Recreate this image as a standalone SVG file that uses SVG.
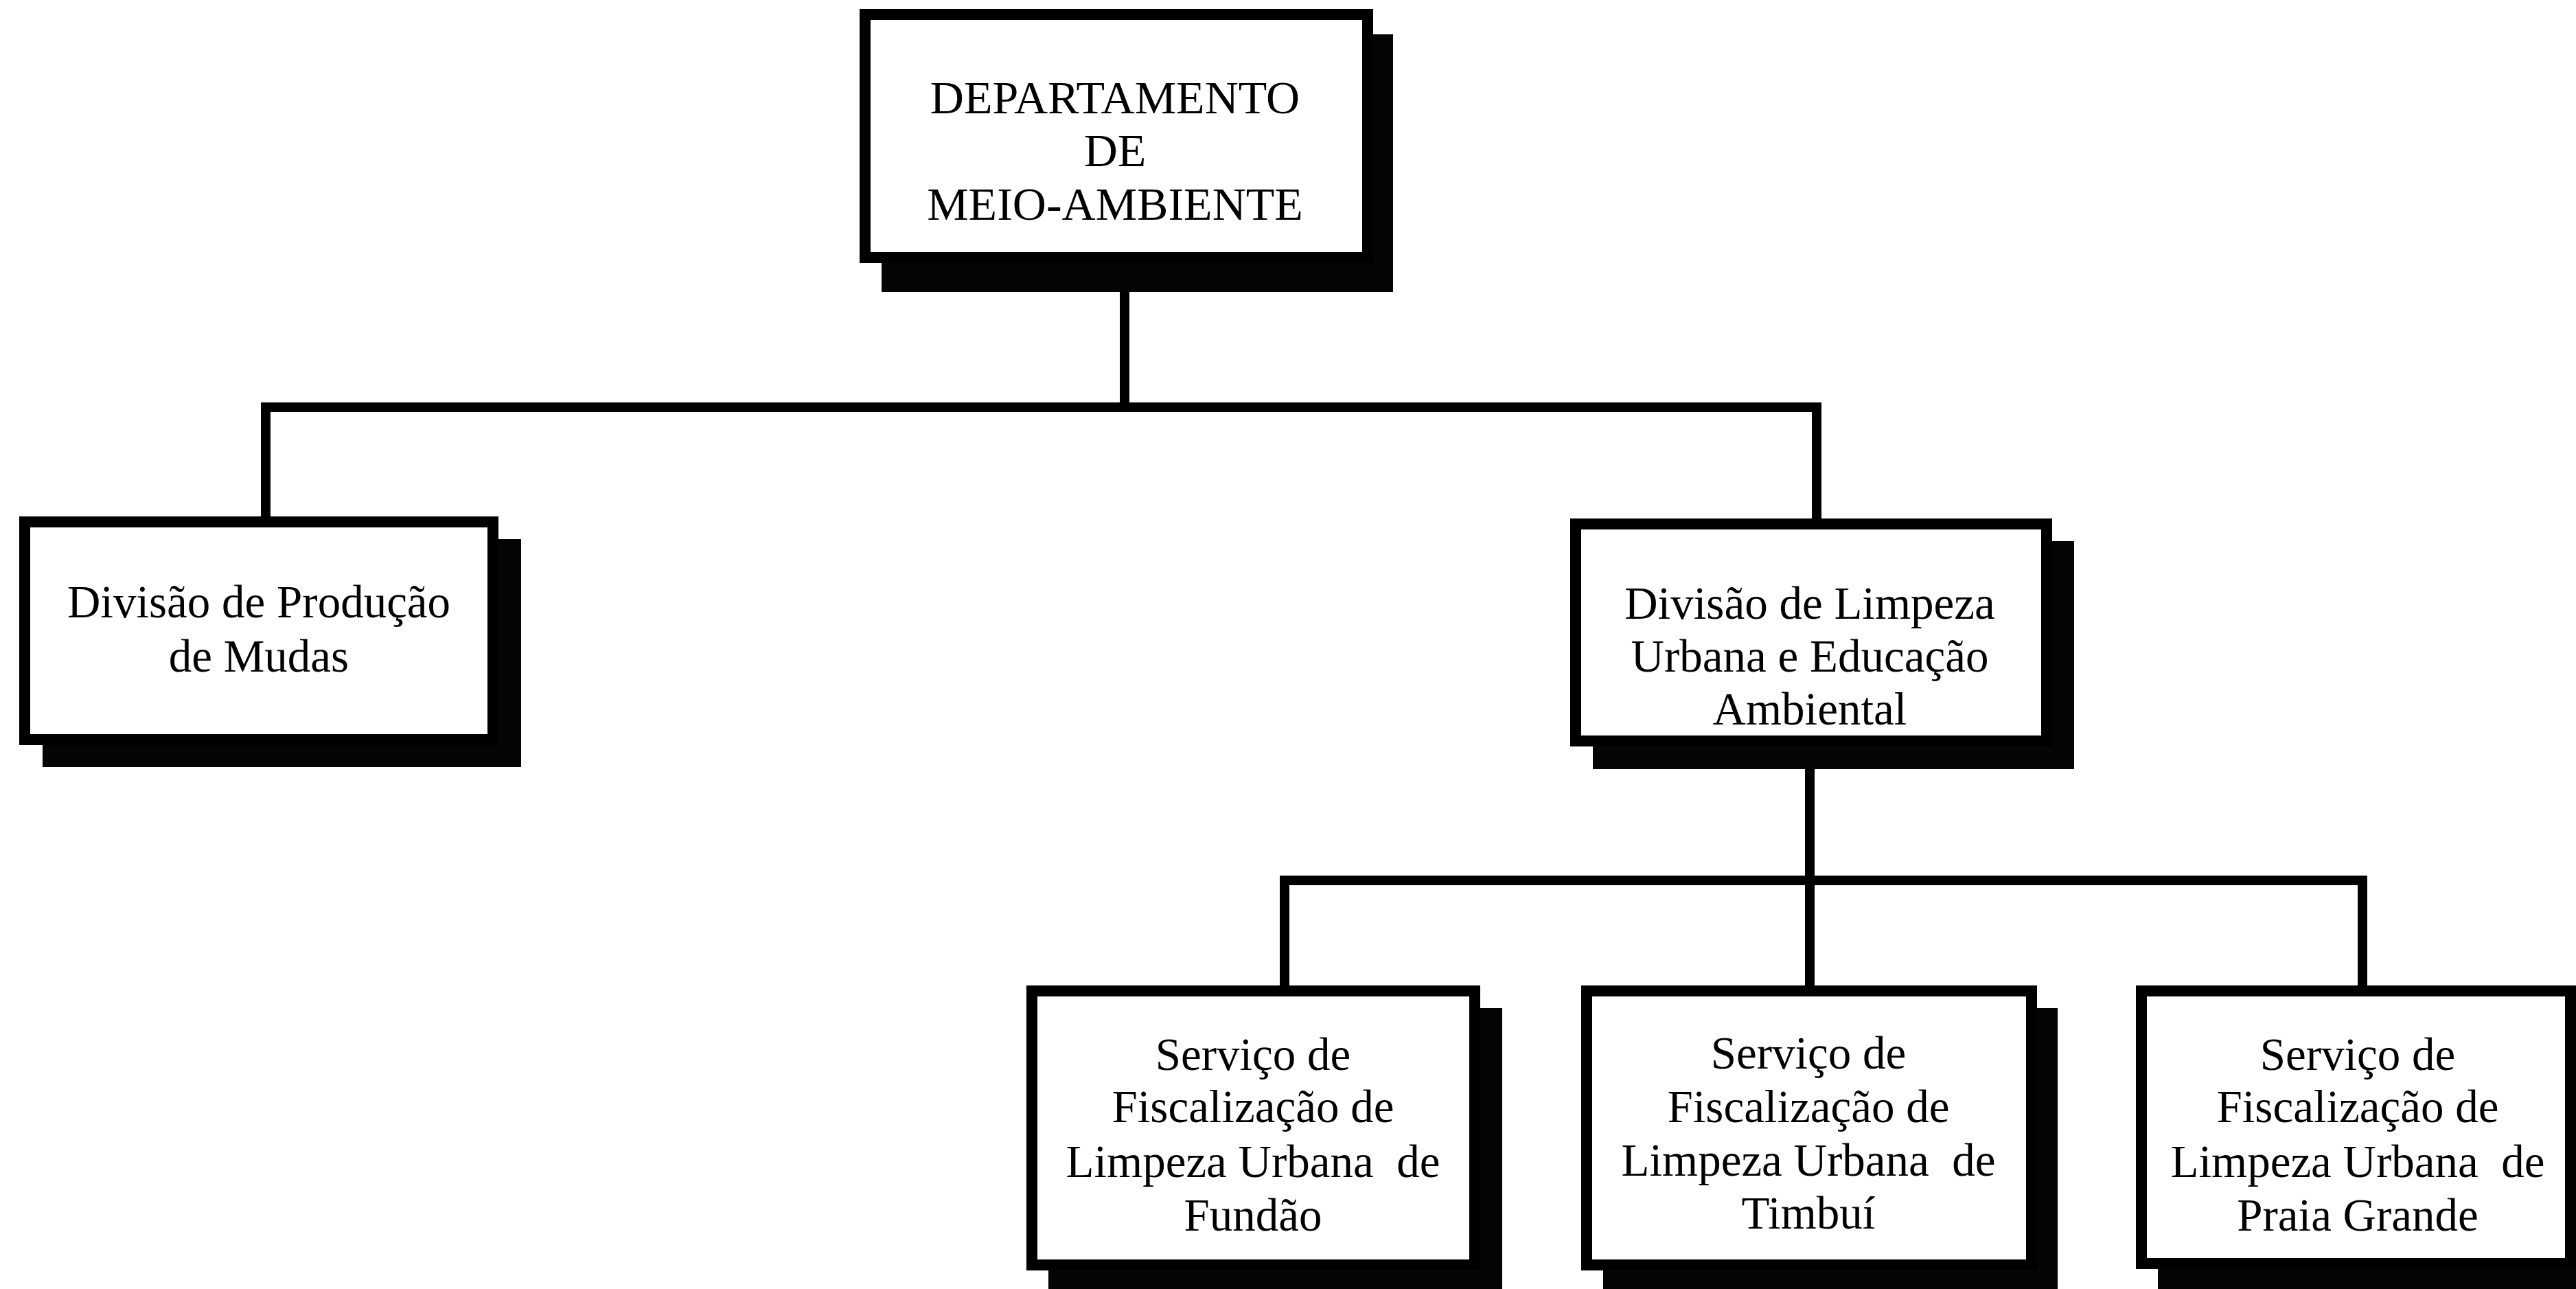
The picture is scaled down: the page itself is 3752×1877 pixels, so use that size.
<svg xmlns="http://www.w3.org/2000/svg" width="3752" height="1877" viewBox="0 0 3752 1877">
<style>
.bg{fill:#fff}
.box{fill:#fff;stroke:#000;stroke-width:16}
.sh{fill:#050505}
.ln{stroke:#000;stroke-width:14;fill:none;stroke-linecap:square}
.t{font-family:"Liberation Serif","Times New Roman",serif;font-size:67px;fill:#000;text-anchor:middle}
</style>
<rect class="bg" x="0" y="0" width="3752" height="1877"/>
<g id="connectors">
<path class="ln" d="M1638 383 V593 M387 593 H2646 M387 593 V752 M2646 593 V755"/>
<path class="ln" d="M2636 1087 V1282 M1871 1282 H3441 M1871 1282 V1435 M2636 1282 V1435 M3441 1282 V1435"/>
</g>
<g id="n-departamento">
<rect class="sh" x="1284" y="50" width="745" height="375"/>
<rect class="box" x="1260" y="21" width="732" height="354"/>
<text class="t" x="1624" y="165" style="font-size:68px">DEPARTAMENTO</text>
<text class="t" x="1624" y="242" style="font-size:68px">DE</text>
<text class="t" x="1624" y="320" style="font-size:68px">MEIO-AMBIENTE</text>
</g>
<g id="n-producao">
<rect class="sh" x="62" y="785" width="697" height="332"/>
<rect class="box" x="36" y="760" width="682" height="317"/>
<text class="t" x="377" y="899">Divisão de Produção</text>
<text class="t" x="377" y="978">de Mudas</text>
</g>
<g id="n-limpeza">
<rect class="sh" x="2320" y="788" width="701" height="332"/>
<rect class="box" x="2295" y="763" width="686" height="316"/>
<text class="t" x="2636" y="901">Divisão de Limpeza</text>
<text class="t" x="2636" y="978">Urbana e Educação</text>
<text class="t" x="2636" y="1055">Ambiental</text>
</g>
<g id="n-fundao">
<rect class="sh" x="1527" y="1468" width="661" height="409"/>
<rect class="box" x="1503" y="1443" width="645" height="399"/>
<text class="t" x="1825" y="1558">Serviço de</text>
<text class="t" x="1825" y="1634">Fiscalização de</text>
<text class="t" x="1825" y="1714">Limpeza Urbana&#160; de</text>
<text class="t" x="1825" y="1792">Fundão</text>
</g>
<g id="n-timbui">
<rect class="sh" x="2335" y="1468" width="662" height="409"/>
<rect class="box" x="2311" y="1443" width="648" height="399"/>
<text class="t" x="2634" y="1556">Serviço de</text>
<text class="t" x="2634" y="1634">Fiscalização de</text>
<text class="t" x="2634" y="1712">Limpeza Urbana&#160; de</text>
<text class="t" x="2634" y="1789">Timbuí</text>
</g>
<g id="n-praia">
<rect class="sh" x="3143" y="1468" width="640" height="409"/>
<rect class="box" x="3119" y="1443" width="625" height="397"/>
<text class="t" x="3434" y="1558">Serviço de</text>
<text class="t" x="3434" y="1634">Fiscalização de</text>
<text class="t" x="3434" y="1714">Limpeza Urbana&#160; de</text>
<text class="t" x="3434" y="1792">Praia Grande</text>
</g>
</svg>
